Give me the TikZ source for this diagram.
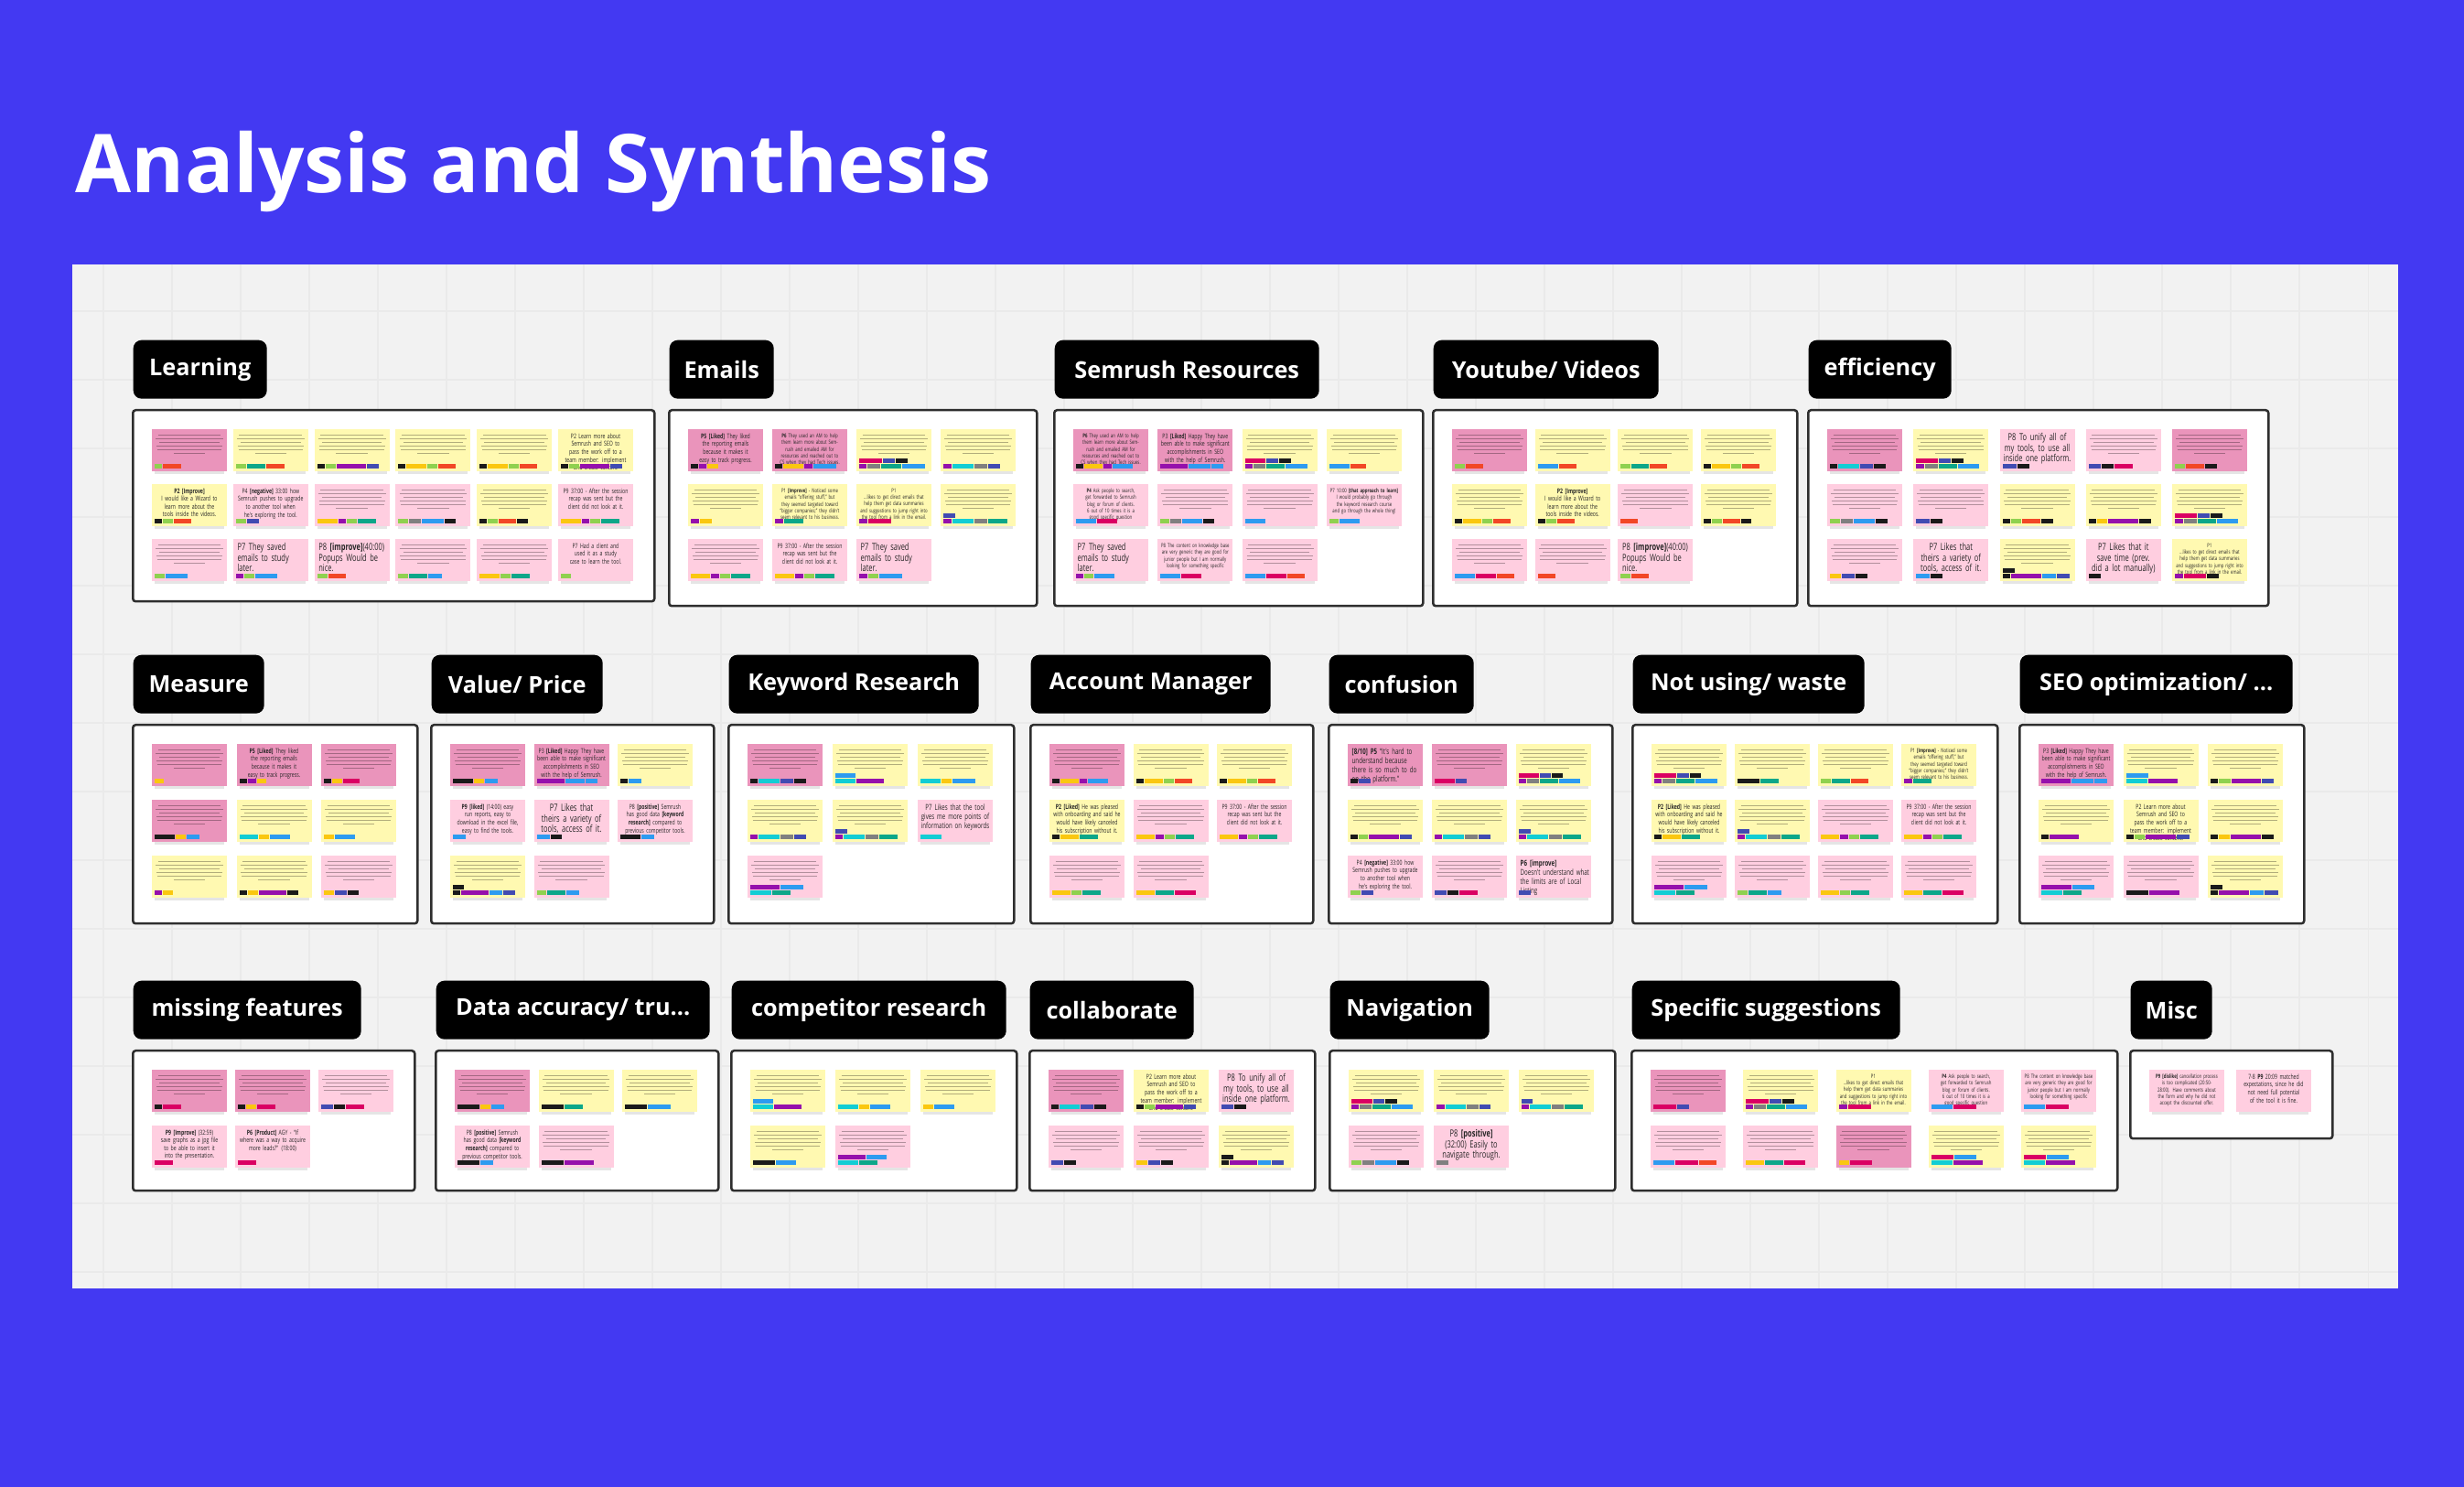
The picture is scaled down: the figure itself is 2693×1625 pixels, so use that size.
\documentclass[tikz,border=0pt]{standalone}
\usepackage{fontspec}
\setmainfont{Open Sans}
\newfontfamily\stickyfont[FakeStretch=0.7]{Open Sans}
\usepackage{tikz}
\usetikzlibrary{positioning}
\definecolor{miroBlue}{HTML}{4339F2}
\definecolor{miroPaper}{HTML}{F2F2F2}
\definecolor{miroGrid}{HTML}{EAEAEA}
\definecolor{noteY}{HTML}{FFF9B1}
\definecolor{noteP}{HTML}{FFCEE0}
\definecolor{noteD}{HTML}{EA94BB}
\definecolor{tagk}{HTML}{1A1A1A}
\definecolor{tagg}{HTML}{8FD14F}
\definecolor{tagr}{HTML}{F24726}
\definecolor{tagt}{HTML}{0CA789}
\definecolor{tagc}{HTML}{12CDD4}
\definecolor{tagu}{HTML}{2D9BF0}
\definecolor{tagi}{HTML}{414BB2}
\definecolor{tagv}{HTML}{9510AC}
\definecolor{tagm}{HTML}{DA0063}
\definecolor{tagy}{HTML}{FAC710}
\definecolor{tage}{HTML}{808080}
\newcounter{sn}
\tikzset{
	titulo/.style={
		anchor=base west,
		text=white,
		inner sep=0pt,
		font=\bfseries\fontsize{25.2}{30}\selectfont
	},
	grouptag/.style={
		fill=black,
		text=white,
		rounded corners=0.9mm,
		anchor=north west,
		minimum height=6.4mm,
		inner sep=0pt,
		font=\bfseries\fontsize{7.2}{8}\selectfont
	},
	groupbox/.style={
		draw=black!82,
		fill=white,
		line width=0.25mm,
		rounded corners=0.3mm,
		anchor=north west,
		inner sep=0pt
	},
	gridline/.style={
		miroGrid,
		line width=0.3pt
	},
	noteshadow/.style={
		fill=black,
		fill opacity=0.1
	},
	noteline/.style={
		draw=black,
		draw opacity=0.3,
		line width=0.25pt
	},
	notetext/.style={
		inner sep=0pt,
		text=black!85,
		anchor=north,
		align=center,
		text width=7.5mm
	},
	notebig/.style={notetext, anchor=north west, xshift=-3.7mm, align=left, font=\stickyfont\fontsize{3.05}{3.2}\selectfont},
	notebigc/.style={notetext, font=\stickyfont\fontsize{3.05}{3.2}\selectfont},
	notemed/.style={notetext, text width=7.6mm, font=\stickyfont\fontsize{2.5}{2.85}\selectfont},
	notemedl/.style={notemed, anchor=north west, xshift=-3.7mm, align=left},
	notemid/.style={notetext, text width=7.6mm, font=\stickyfont\fontsize{2.1}{2.45}\selectfont},
	notesmall/.style={notetext, text width=7.6mm, font=\stickyfont\fontsize{1.75}{2.1}\selectfont}
}
\newcommand{\board}[8]{%
	\node[grouptag, minimum width={#3*0.1mm}] (tag#1) at (#4+1,#5-76) {#2};
	\node[groupbox, minimum width={(#6-#4)*0.1mm}, minimum height={(#7-#5)*0.1mm}] (box#1) at (#4,#5) {};
	\pgfmathsetmacro\grx{#4+22}%
	\pgfmathsetmacro\gry{#5+22}%
	\pgfmathsetmacro\grp{(#6-#4-126)/(#8-1)}%
}
\newcommand{\tagrow}[2]{%
	\pgfmathsetmacro\tmpx{\stx+3}\global\let\tagx\tmpx
	\foreach \c/\w in {#2}{%
		\fill[tag\c] (\tagx,#1) rectangle ++(\w,5);
		\pgfmathsetmacro\tmpx{\tagx+\w+1}\global\let\tagx\tmpx
	}%
}
\newcommand{\sticky}[7]{%
	\pgfmathsetmacro\stx{\grx+(#1-1)*\grp}%
	\pgfmathsetmacro\sty{\gry+(#2-1)*\grq}%
	\fill[noteshadow] (\stx+3,\sty+45) rectangle (\stx+79,\sty+49.5);
	\fill[#3] (\stx,\sty) rectangle (\stx+82,\sty+46);
	\if\relax\detokenize{#5}\relax
		\foreach \k/\lw in {0/0.84,1/0.9,2/0.8,3/0.88,4/0.86,5/0.42}
			\draw[noteline] (\stx+41-41*\lw,\sty+6.5+\k*3.9) -- ++(82*\lw,0);
	\else
		\stepcounter{sn}%
		\node[#4] (note\arabic{sn}) at (\stx+41,\sty+4) {#5};
	\fi
	\if\relax\detokenize{#6}\relax\else\tagrow{\sty+38.5}{#6}\fi
	\if\relax\detokenize{#7}\relax\else\tagrow{\sty+32.5}{#7}\fi
}

\begin{document}
\begin{tikzpicture}[x=0.1mm,y=-0.1mm]
	\fill[miroBlue] (0,0) rectangle (2693,1625);
	\useasboundingbox (0,0) rectangle (2693,1625);
	\node[titulo] (title) at (82,211) {Analysis and Synthesis};
	\fill[miroPaper] (79,289) rectangle (2621,1408);
	\foreach \gl in {113,188,...,2600}{\draw[gridline] (\gl,289) -- (\gl,1408);}
	\foreach \gl in {340,415,...,1400}{\draw[gridline] (79,\gl) -- (2621,\gl);}

	\def\grq{60}
	\board{learning}{Learning}{146}{144}{447}{714}{656}{6}
	\sticky{1}{1}{noteD}{}{}{g/8,r/20}{}
	\sticky{2}{1}{noteY}{}{}{g/11,t/20,r/20}{}
	\sticky{3}{1}{noteY}{}{}{k/8,g/11,v/32,i/13}{}
	\sticky{4}{1}{noteY}{}{}{k/8,y/22,g/11,r/19}{}
	\sticky{5}{1}{noteY}{}{}{k/8,y/22,g/11,r/19}{}
	\sticky{6}{1}{noteY}{notemid}{P2 Learn more about Semrush and SEO to pass the work off to a team member: implement and create content}{k/8,g/11,v/32,i/13}{}
	\sticky{1}{2}{noteY}{notemid}{{\bfseries P2 [Improve]}\\I would like a Wizard to learn more about the tools inside the videos.}{k/8,g/11,r/19}{}
	\sticky{2}{2}{noteP}{notemid}{P4 {\bfseries[negative]} 33:00 how Semrush pushes to upgrade to another tool when he's exploring the tool.}{g/11,i/13}{}
	\sticky{3}{2}{noteP}{}{}{y/22,v/8,g/11,t/20}{}
	\sticky{4}{2}{noteP}{}{}{g/11,e/13,u/24,k/12}{}
	\sticky{5}{2}{noteY}{}{}{k/8,g/11,r/19,k/12}{}
	\sticky{6}{2}{noteP}{notemid}{P9 37:00 - After the session recap was sent but the client did not look at it.}{y/22,v/8,g/11,t/20}{}
	\sticky{1}{3}{noteP}{}{}{g/11,u/24}{}
	\sticky{2}{3}{noteP}{notebig}{P7 They saved emails to study later.}{v/8,g/11,u/24}{}
	\sticky{3}{3}{noteP}{notebig}{P8 {\bfseries[improve]}(40:00) Popups Would be nice.}{g/11,r/19}{}
	\sticky{4}{3}{noteP}{}{}{g/11,t/20,u/15}{}
	\sticky{5}{3}{noteP}{}{}{y/22,g/11,t/20}{}
	\sticky{6}{3}{noteP}{notemid}{P7 Had a client and used it as a study case to learn the tool.}{g/11}{}

	\board{emails}{Emails}{114}{730}{447}{1132}{661}{4}
	\sticky{1}{1}{noteD}{notemid}{{\bfseries P5 [Liked]} They liked the reporting emails because it makes it easy to track progress.}{k/8,v/8,y/12}{}
	\sticky{2}{1}{noteD}{notesmall}{{\bfseries P6} They used an AM to help them learn more about Semrush and emailed AM for resources and reached out to CS when they had Tech issues.}{k/8,y/22,v/9,u/25}{}
	\sticky{3}{1}{noteY}{}{}{v/8,e/14,t/22,u/25}{m/25,i/13,k/13}
	\sticky{4}{1}{noteY}{}{}{v/9,c/23,e/14,i/13}{}
	\sticky{1}{2}{noteY}{}{}{v/9,y/13}{}
	\sticky{2}{2}{noteY}{notesmall}{P1 {\bfseries[Improve]} - Noticed some emails “offering stuff,” but they seemed targeted toward “bigger companies;” they didn't seem relevant to his business.}{v/9,t/21}{}
	\sticky{3}{2}{noteY}{notesmall}{P1\\...likes to get direct emails that help them get data summaries and suggestions to jump right into the tool from a link in the email.}{v/9,m/25}{}
	\sticky{4}{2}{noteY}{}{}{v/9,c/23,e/14,t/21}{i/13}
	\sticky{1}{3}{noteP}{}{}{y/21,v/9,g/11,t/21}{}
	\sticky{2}{3}{noteP}{notemid}{P9 37:00 - After the session recap was sent but the client did not look at it.}{y/21,v/9,g/11,t/21}{}
	\sticky{3}{3}{noteP}{notebig}{P7 They saved emails to study later.}{v/9,g/11,u/25}{}

	\board{semrush}{Semrush Resources}{289}{1151}{447}{1554}{661}{4}
	\sticky{1}{1}{noteD}{notesmall}{{\bfseries P6} They used an AM to help them learn more about Semrush and emailed AM for resources and reached out to CS when they had Tech issues.}{k/8,y/20,v/9,u/22}{}
	\sticky{2}{1}{noteD}{notemid}{P3 {\bfseries[Liked]} Happy They have been able to make significant accomplishments in SEO with the help of Semrush.}{v/30,u/24,u/13}{}
	\sticky{3}{1}{noteY}{}{}{v/8,e/13,t/20,u/24}{m/22,i/13,k/13}
	\sticky{4}{1}{noteY}{}{}{u/22,r/17}{}
	\sticky{1}{2}{noteP}{notesmall}{{\bfseries P4} Ask people to search, get forwarded to Semrush blog or forum of clients.\\6 out of 10 times it is a good specific question}{u/22,m/22}{}
	\sticky{2}{2}{noteP}{}{}{g/10,e/12,u/22,k/12}{}
	\sticky{3}{2}{noteP}{}{}{u/22}{}
	\sticky{4}{2}{noteP}{notesmall}{P7 10:00 {\bfseries[that approach to learn]} I would probably go through the keyword research course and go through the whole thing!}{g/10,u/22}{}
	\sticky{1}{3}{noteP}{notebig}{P7 They saved emails to study later.}{v/8,g/10,u/22}{}
	\sticky{2}{3}{noteP}{notesmall}{P8 The content on knowledge base are very generic they are good for junior people but I am normally looking for something specific}{u/22,m/22}{}
	\sticky{3}{3}{noteP}{}{}{u/22,m/22,r/19}{}

	\board{youtube}{Youtube/ Videos}{246}{1565}{447}{1963}{661}{4}
	\sticky{1}{1}{noteD}{}{}{g/11,r/19}{}
	\sticky{2}{1}{noteY}{}{}{u/22,r/19}{}
	\sticky{3}{1}{noteY}{}{}{g/11,t/19,r/19}{}
	\sticky{4}{1}{noteY}{}{}{k/8,y/20,g/11,r/19}{}
	\sticky{1}{2}{noteY}{}{}{k/8,y/20,g/11,r/19}{}
	\sticky{2}{2}{noteY}{notemid}{{\bfseries P2 [Improve]}\\I would like a Wizard to learn more about the tools inside the videos.}{k/8,g/11,r/19}{}
	\sticky{3}{2}{noteP}{}{}{r/19}{}
	\sticky{4}{2}{noteY}{}{}{k/8,g/11,r/19,k/11}{}
	\sticky{1}{3}{noteP}{}{}{u/22,m/22,r/19}{}
	\sticky{2}{3}{noteP}{}{}{r/19}{}
	\sticky{3}{3}{noteP}{notebig}{P8 {\bfseries[improve]}(40:00) Popups Would be nice.}{g/11,r/19}{}

	\board{efficiency}{efficiency}{156}{1975}{447}{2478}{661}{5}
	\sticky{1}{1}{noteD}{}{}{k/8,c/23,i/14,k/13}{}
	\sticky{2}{1}{noteY}{}{}{v/9,e/14,t/20,u/23}{m/24,i/13,k/13}
	\sticky{3}{1}{noteP}{notebigc}{P8 To unify all of my tools, to use all inside one platform.}{i/15,k/13}{}
	\sticky{4}{1}{noteP}{}{}{i/13,k/13,m/20}{}
	\sticky{5}{1}{noteD}{}{}{g/11,r/20,k/13}{}
	\sticky{1}{2}{noteP}{}{}{g/11,e/13,u/23,k/13}{}
	\sticky{2}{2}{noteP}{}{}{i/15,k/13}{}
	\sticky{3}{2}{noteY}{}{}{k/8,g/11,r/20,k/13}{}
	\sticky{4}{2}{noteY}{}{}{k/8,y/11,v/33,k/13}{}
	\sticky{5}{2}{noteY}{}{}{v/9,e/14,t/20,u/23}{m/24,i/13,k/13}
	\sticky{1}{3}{noteP}{}{}{y/12,i/14,k/13}{}
	\sticky{2}{3}{noteP}{notebigc}{P7 Likes that theirs a variety of tools, access of it.}{u/15,k/13}{}
	\sticky{3}{3}{noteY}{}{}{k/8,v/33,u/15,i/14}{k/13}
	\sticky{4}{3}{noteP}{notebigc}{P7 Likes that it save time (prev. did a lot manually)}{k/13}{}
	\sticky{5}{3}{noteY}{notesmall}{P1\\...likes to get direct emails that help them get data summaries and suggestions to jump right into the tool from a link in the email.}{v/9,m/24,k/13}{}

	\def\grq{61}
	\board{measure}{Measure}{143}{144}{791}{455}{1008}{3}
	\sticky{1}{1}{noteD}{}{}{y/10}{}
	\sticky{2}{1}{noteD}{notemid}{{\bfseries P5 [Liked]} They liked the reporting emails because it makes it easy to track progress.}{k/8,v/9,y/10}{}
	\sticky{3}{1}{noteD}{}{}{k/8,y/11,m/18}{}
	\sticky{1}{2}{noteD}{}{}{k/22,y/11,u/14}{}
	\sticky{2}{2}{noteY}{}{}{c/20,y/11,u/22}{}
	\sticky{3}{2}{noteY}{}{}{y/11,u/22}{}
	\sticky{1}{3}{noteY}{}{}{v/8,y/11}{}
	\sticky{2}{3}{noteY}{}{}{k/8,y/11,v/30,k/12}{}
	\sticky{3}{3}{noteP}{}{}{y/11,i/13,k/12}{}

	\board{value}{Value/ Price}{187}{470}{791}{779}{1008}{3}
	\sticky{1}{1}{noteD}{}{}{k/22,y/11,u/14}{}
	\sticky{2}{1}{noteD}{notemid}{P3 {\bfseries[Liked]} Happy They have been able to make significant accomplishments in SEO with the help of Semrush.}{v/30,u/21,u/13}{}
	\sticky{3}{1}{noteY}{}{}{k/8,u/14}{}
	\sticky{1}{2}{noteP}{notemid}{{\bfseries P9 [liked]} (14:00) easy run reports, easy to download in the excel file, easy to find the tools.}{u/14}{}
	\sticky{2}{2}{noteP}{notebigc}{P7 Likes that theirs a variety of tools, access of it.}{u/14,k/12}{}
	\sticky{3}{2}{noteP}{notemid}{P8 {\bfseries[positive]} Semrush has good data {\bfseries[keyword research]} compared to previous competitor tools.}{k/22,u/14}{}
	\sticky{1}{3}{noteY}{}{}{k/8,v/30,u/14,i/13}{k/12}
	\sticky{2}{3}{noteP}{}{}{g/10,t/20,u/14}{}

	\board{keyword}{Keyword Research}{273}{795}{791}{1107}{1008}{3}
	\sticky{1}{1}{noteD}{}{}{k/8,c/23,i/14,k/13}{}
	\sticky{2}{1}{noteY}{}{}{c/22,v/30}{u/22}
	\sticky{3}{1}{noteY}{}{}{c/22,y/11,u/25}{}
	\sticky{1}{2}{noteY}{}{}{v/8,c/23,e/14,i/13}{}
	\sticky{2}{2}{noteY}{}{}{v/8,c/23,e/14,t/20}{i/13}
	\sticky{3}{2}{noteP}{notemed}{P7 Likes that the tool gives me more points of information on keywords}{c/23}{}
	\sticky{1}{3}{noteP}{}{}{c/23,t/20}{v/32,u/25}

	\board{account}{Account Manager}{262}{1125}{791}{1434}{1008}{3}
	\sticky{1}{1}{noteD}{}{}{k/8,y/20,v/8,u/22}{}
	\sticky{2}{1}{noteY}{}{}{k/8,y/20,g/11,r/19}{}
	\sticky{3}{1}{noteY}{}{}{k/8,y/20,g/11,r/19}{}
	\sticky{1}{2}{noteY}{notemid}{{\bfseries P2 [Liked]} He was pleased with onboarding and said he would have likely canceled his subscription without it.}{k/8,y/20,t/20}{}
	\sticky{2}{2}{noteP}{}{}{y/20,v/9,g/11,t/20}{}
	\sticky{3}{2}{noteP}{notemid}{P9 37:00 - After the session recap was sent but the client did not look at it.}{y/20,v/9,g/11,t/20}{}
	\sticky{1}{3}{noteP}{}{}{y/20,g/11,t/20}{}
	\sticky{2}{3}{noteP}{}{}{y/20,t/20,m/23}{}

	\board{confusion}{confusion}{158}{1451}{791}{1761}{1008}{3}
	\sticky{1}{1}{noteD}{notemedl}{{\bfseries [8/10] P5} “It's hard to understand because there is so much to do on the platform.”}{k/8,i/13}{}
	\sticky{2}{1}{noteD}{}{}{m/22,i/12}{}
	\sticky{3}{1}{noteY}{}{}{v/8,e/13,t/20,u/23}{m/22,i/12,k/12}
	\sticky{1}{2}{noteY}{}{}{k/8,g/10,v/33,i/13}{}
	\sticky{2}{2}{noteY}{}{}{v/8,c/23,e/14,i/13}{}
	\sticky{3}{2}{noteY}{}{}{v/8,c/23,e/14,t/20}{i/13}
	\sticky{1}{3}{noteP}{notemid}{P4 {\bfseries[negative]} 33:00 how Semrush pushes to upgrade to another tool when he's exploring the tool.}{g/11,i/13}{}
	\sticky{2}{3}{noteP}{}{}{i/13,k/12,m/20}{}
	\sticky{3}{3}{noteP}{notemedl}{{\bfseries P6 [improve]}\\Doesn't understand what the limits are of Local Listing}{i/13}{}

	\board{notusing}{Not using/ waste}{253}{1783}{791}{2182}{1008}{4}
	\sticky{1}{1}{noteY}{}{}{v/8,e/14,t/20,u/24}{m/24,i/13,k/12}
	\sticky{2}{1}{noteY}{}{}{k/24,t/20}{}
	\sticky{3}{1}{noteY}{}{}{g/11,t/20,r/19}{}
	\sticky{4}{1}{noteY}{notesmall}{P1 {\bfseries[Improve]} - Noticed some emails “offering stuff,” but they seemed targeted toward “bigger companies;” they didn't seem relevant to his business.}{v/9,t/20}{}
	\sticky{1}{2}{noteY}{notemid}{{\bfseries P2 [Liked]} He was pleased with onboarding and said he would have likely canceled his subscription without it.}{k/8,y/20,t/20}{}
	\sticky{2}{2}{noteY}{}{}{v/8,c/23,e/14,t/20}{i/13}
	\sticky{3}{2}{noteP}{}{}{y/20,v/9,g/11,t/20}{}
	\sticky{4}{2}{noteP}{notemid}{P9 37:00 - After the session recap was sent but the client did not look at it.}{y/20,v/9,g/11,t/20}{}
	\sticky{1}{3}{noteP}{}{}{c/23,t/20}{v/32,u/25}
	\sticky{2}{3}{noteP}{}{}{g/11,t/20,u/15}{}
	\sticky{3}{3}{noteP}{}{}{y/20,g/11,t/20}{}
	\sticky{4}{3}{noteP}{}{}{y/20,t/20,m/23}{}

	\board{seo}{SEO optimization/ ...}{298}{2206}{791}{2517}{1008}{3}
	\sticky{1}{1}{noteD}{notemid}{P3 {\bfseries[Liked]} Happy They have been able to make significant accomplishments in SEO with the help of Semrush.}{v/32,u/24,u/14}{}
	\sticky{2}{1}{noteY}{}{}{c/23,v/32}{u/24}
	\sticky{3}{1}{noteY}{}{}{k/8,g/13,v/32,i/13}{}
	\sticky{1}{2}{noteY}{}{}{k/8,v/32}{}
	\sticky{2}{2}{noteY}{notemid}{P2 Learn more about Semrush and SEO to pass the work off to a team member: implement and create content.}{k/8,g/11,v/33,i/14}{}
	\sticky{3}{2}{noteY}{}{}{k/8,y/12,v/33,k/13}{}
	\sticky{1}{3}{noteP}{}{}{c/23,t/20}{v/33,u/24}
	\sticky{2}{3}{noteP}{}{}{k/24,v/33}{}
	\sticky{3}{3}{noteY}{}{}{k/8,v/33,u/15,i/15}{k/13}

	\board{missing}{missing features}{249}{144}{1147}{452}{1300}{3}
	\sticky{1}{1}{noteD}{}{}{k/8,m/20}{}
	\sticky{2}{1}{noteD}{}{}{k/8,y/11,m/20}{}
	\sticky{3}{1}{noteP}{}{}{i/13,k/12,m/20}{}
	\sticky{1}{2}{noteP}{notemid}{{\bfseries P9 [Improve]} (32:59) save graphs as a jpg file to be able to insert it into the presentation.}{m/20}{}
	\sticky{2}{2}{noteP}{notemid}{{\bfseries P6 [Product]} AGY - “If where was a way to acquire more leads?” (18:00)}{m/20}{}

	\board{data}{Data accuracy/ tru...}{299}{475}{1147}{784}{1300}{3}
	\sticky{1}{1}{noteD}{}{}{k/24,y/11,u/14}{}
	\sticky{2}{1}{noteY}{}{}{k/24,t/20}{}
	\sticky{3}{1}{noteY}{}{}{k/24,u/25}{}
	\sticky{1}{2}{noteP}{notemid}{P8 {\bfseries[positive]} Semrush has good data {\bfseries[keyword research]} compared to previous competitor tools.}{k/24,u/14}{}
	\sticky{2}{2}{noteP}{}{}{k/24,v/32}{}

	\board{competitor}{competitor research}{300}{798}{1147}{1110}{1300}{3}
	\sticky{1}{1}{noteY}{}{}{c/22,v/30}{u/22}
	\sticky{2}{1}{noteY}{}{}{c/22,y/11,u/22}{}
	\sticky{3}{1}{noteY}{}{}{y/11,u/22}{}
	\sticky{1}{2}{noteY}{}{}{k/24,u/22}{}
	\sticky{2}{2}{noteP}{}{}{c/22,t/20}{v/30,u/22}

	\board{collaborate}{collaborate}{179}{1124}{1147}{1436}{1300}{3}
	\sticky{1}{1}{noteD}{}{}{k/8,c/22,i/14,k/13}{}
	\sticky{2}{1}{noteY}{notemid}{P2 Learn more about Semrush and SEO to pass the work off to a team member: implement and create content}{k/8,g/11,v/30,i/13}{}
	\sticky{3}{1}{noteP}{notebigc}{P8 To unify all of my tools, to use all inside one platform.}{i/13,k/13}{}
	\sticky{1}{2}{noteP}{}{}{i/13,k/13}{}
	\sticky{2}{2}{noteP}{}{}{y/12,i/13,k/13}{}
	\sticky{3}{2}{noteY}{}{}{k/8,v/30,u/14,i/13}{k/13}

	\board{navigation}{Navigation}{174}{1452}{1147}{1764}{1300}{3}
	\sticky{1}{1}{noteY}{}{}{v/8,e/13,t/20,u/23}{m/23,i/12,k/13}
	\sticky{2}{1}{noteY}{}{}{v/9,c/22,e/13,i/12}{}
	\sticky{3}{1}{noteY}{}{}{v/8,c/23,e/13,t/20}{i/12}
	\sticky{1}{2}{noteP}{}{}{g/11,e/13,u/23,k/13}{}
	\sticky{2}{2}{noteP}{notebigc}{P8 {\bfseries[positive]} (32:00) Easily to navigate through.}{e/13}{}

	\board{specific}{Specific suggestions}{293}{1782}{1147}{2313}{1300}{5}
	\sticky{1}{1}{noteD}{}{}{m/25,i/13}{}
	\sticky{2}{1}{noteY}{}{}{v/8,e/13,t/20,u/23}{m/25,i/13,k/13}
	\sticky{3}{1}{noteY}{notesmall}{P1\\...likes to get direct emails that help them get data summaries and suggestions to jump right into the tool from a link in the email.}{v/9,m/25}{}
	\sticky{4}{1}{noteP}{notesmall}{{\bfseries P4} Ask people to search, get forwarded to Semrush blog or forum of clients.\\6 out of 10 times it is a good specific question}{u/23,m/25}{}
	\sticky{5}{1}{noteP}{notesmall}{P8 The content on knowledge base are very generic they are good for junior people but I am normally looking for something specific}{u/23,m/25}{}
	\sticky{1}{2}{noteP}{}{}{u/23,m/25,r/19}{}
	\sticky{2}{2}{noteP}{}{}{y/20,t/20,m/23}{}
	\sticky{3}{2}{noteD}{}{}{y/11,m/24}{}
	\sticky{4}{2}{noteY}{}{}{c/23,v/32}{m/24,u/24}
	\sticky{5}{2}{noteY}{}{}{c/23,v/32}{m/24,u/24}

	\board{misc}{Misc}{89}{2327}{1147}{2548}{1243}{2}
	\sticky{1}{1}{noteP}{notesmall}{{\bfseries P9 [dislike]} cancellation process is too complicated (20:50-28:00). Have comments about the form and why he did not accept the discounted offer.}{}{}
	\sticky{2}{1}{noteP}{notemid}{7-8 {\bfseries P9} 20:09 matched expectations, since he did not need full potential of the tool it is fine.}{}{}
\end{tikzpicture}
\end{document}
